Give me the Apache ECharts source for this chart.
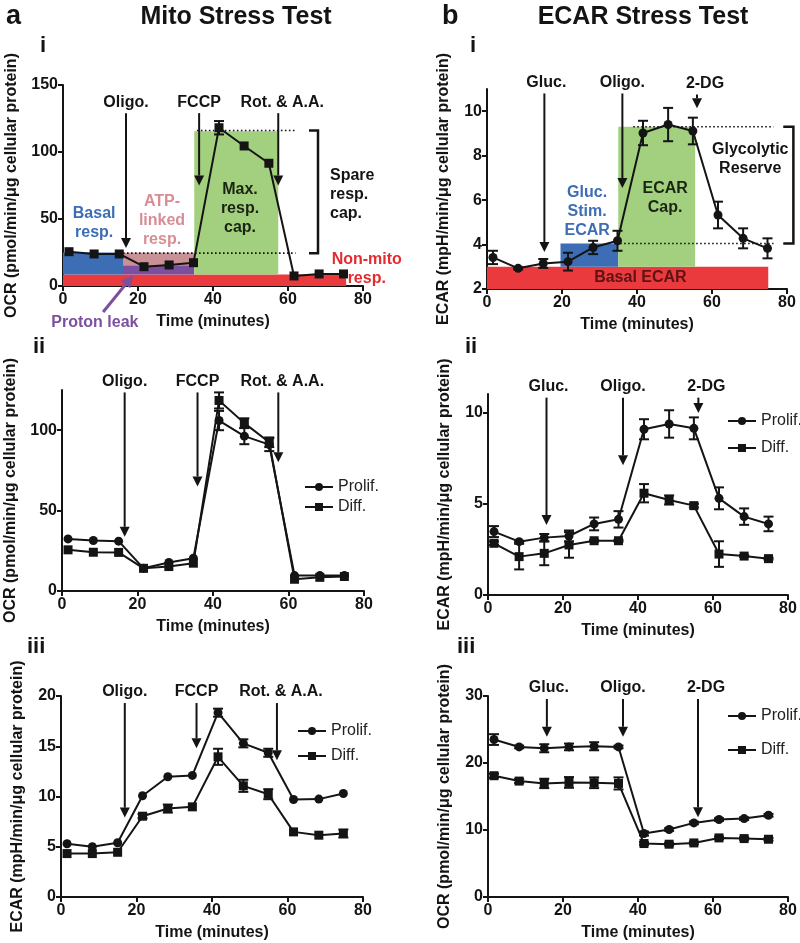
<!DOCTYPE html>
<html><head><meta charset="utf-8">
<script src="https://cdn.jsdelivr.net/npm/echarts@6/dist/echarts.min.js"></script>
<style>html,body{margin:0;padding:0;background:#fff}#c{width:800px;height:943px}</style>
</head><body><div id="c"></div>
<script>
// ---------------- DATA ----------------
const timePoints = [1.6, 8.3, 15, 21.6, 28.3, 34.8, 41.6, 48.3, 54.9, 61.6, 68.3, 74.8];
const xTicks = [0, 20, 40, 60, 80];

// a-i  Mito stress test, OCR (single trace)
const mitoOcrRef    = [25.6, 23.9, 23.9, 14.4, 15.7, 17.4, 118.1, 104.5, 91.6, 7.5, 9.0, 9.0];
const mitoOcrRefErr = [0, 0, 0, 0, 0, 0, 5, 0, 0, 0, 0, 0];
// a-ii Mito stress test OCR, Prolif vs Diff
const mitoOcrProlif    = [32.4, 31.4, 31.0, 14.1, 17.7, 20.4, 106, 96.3, 91.0, 9.6, 9.6, 9.6];
const mitoOcrProlifErr = [0, 0, 0, 0, 0, 0, 6, 5, 4, 0, 0, 0];
const mitoOcrDiff      = [25.6, 24.1, 24.0, 14.1, 15.2, 17.3, 118.5, 104.4, 92.5, 7.3, 8.5, 9.0];
const mitoOcrDiffErr   = [0, 0, 0, 0, 0, 0, 5, 3, 3, 0, 0, 0];
// a-iii Mito stress test ECAR
const mitoEcarProlif    = [5.3, 5.0, 5.4, 10.07, 11.96, 12.1, 18.34, 15.29, 14.35, 9.7, 9.74, 10.3];
const mitoEcarProlifErr = [0, 0, 0, 0, 0, 0, 0.4, 0.4, 0.4, 0, 0, 0];
const mitoEcarDiff      = [4.32, 4.32, 4.45, 8.04, 8.8, 8.97, 13.95, 11.06, 10.23, 6.48, 6.15, 6.32];
const mitoEcarDiffErr   = [0, 0, 0, 0.2, 0.4, 0, 0.8, 0.6, 0.5, 0, 0, 0.4];
// b-i ECAR stress test (single trace)
const glyEcarRef    = [3.42, 2.93, 3.15, 3.23, 3.87, 4.17, 9.02, 9.4, 9.11, 5.33, 4.28, 3.83];
const glyEcarRefErr = [0.3, 0.05, 0.2, 0.4, 0.3, 0.45, 0.55, 0.75, 0.6, 0.6, 0.45, 0.45];
// b-ii ECAR stress test ECAR
const glyEcarProlif    = [3.47, 2.92, 3.14, 3.23, 3.89, 4.14, 9.07, 9.36, 9.12, 5.29, 4.29, 3.89];
const glyEcarProlifErr = [0.3, 0.05, 0.2, 0.3, 0.35, 0.45, 0.55, 0.75, 0.6, 0.6, 0.45, 0.4];
const glyEcarDiff      = [2.83, 2.1, 2.28, 2.74, 2.97, 2.97, 5.57, 5.2, 4.89, 2.24, 2.13, 1.99];
const glyEcarDiffErr   = [0.1, 0.7, 0.65, 0.7, 0.05, 0.05, 0.5, 0.25, 0.1, 0.7, 0.05, 0.05];
// b-iii ECAR stress test OCR
const glyOcrProlif    = [23.5, 22.4, 22.2, 22.4, 22.5, 22.4, 9.47, 10.07, 11.06, 11.56, 11.7, 12.2];
const glyOcrProlifErr = [0.8, 0.2, 0.6, 0.5, 0.6, 0.2, 0.3, 0.2, 0.2, 0.2, 0.2, 0.2];
const glyOcrDiff      = [18.1, 17.3, 16.95, 17.1, 17.05, 16.95, 7.98, 7.88, 8.07, 8.82, 8.72, 8.62];
const glyOcrDiffErr   = [0.3, 0.3, 0.7, 0.8, 0.8, 0.9, 0.2, 0.2, 0.2, 0.2, 0.2, 0.2];

// y tick labels per panel
const yTicksAi = [0, 50, 100, 150];
const yTicksBi = [2, 4, 6, 8, 10];
const yTicksAii = [0, 50, 100];
const yTicksBii = [0, 5, 10];
const yTicksAiii = [0, 5, 10, 15, 20];
const yTicksBiii = [0, 10, 20, 30];

// injections: [time, arrow start value, arrow tip value]
const mitoDrugs = ['Oligo.', 'FCCP', 'Rot. & A.A.'];
const ecarDrugs = ['Gluc.', 'Oligo.', '2-DG'];
const arrowsAi   = [[16.8, 129, 28.4], [36.3, 129, 75], [57.4, 129, 75]];
const arrowsAii  = [[16.6, 123.5, 33.7], [35.9, 123.5, 65], [57.3, 123.5, 80]];
const arrowsAiii = [[16.9, 19.3, 7.9], [35.9, 19.3, 14.8], [57.2, 19.3, 13.6]];
const arrowsBi   = [[15.3, 10.8, 3.66], [36.1, 10.8, 6.54], [56.0, 10.75, 10.13]];
const arrowsBii  = [[15.6, 10.8, 3.83], [36.0, 10.8, 7.1], [56.1, 10.8, 9.96]];
const arrowsBiii = [[15.7, 29.55, 23.9], [36.0, 29.55, 23.9], [56.0, 29.55, 11.9]];

// shaded regions [x0, x1, y0, y1]
const regionsAi = [[0, 75.5, 0, 8.5], [0, 16, 8.5, 25], [16, 35, 8.5, 15.5], [16, 35, 15.5, 24.8], [35, 57.4, 8.5, 115.5]];
const regionsBi = [[0, 75, 2, 3.0], [19.6, 35, 3.0, 4.05], [35, 55.5, 3.0, 9.3]];
// reference dotted lines [x1,y1,x2,y2] and brackets [xTick, xBar, yLow, yHigh]
const dottedAi = [[35.7, 116, 62, 116], [16, 24.5, 62, 24.5]];
const bracketAi = [65.6, 68, 24.5, 116];
const dottedBi = [[39, 9.3, 76.4, 9.3], [35.5, 4.05, 76.4, 4.05]];
const bracketBi = [79, 81.7, 4.05, 9.3];

// annotation texts [x, y]
const notesAiText = ['Basal\nresp.', 'ATP-\nlinked\nresp.', 'Max.\nresp.\ncap.', 'Spare\nresp.\ncap.', 'Non-mito\nresp.', 'Proton leak'];
const notesAiPos  = [[8.3, 47], [26.4, 49], [47.2, 58], [71.2, 68], [81.0, 12.3], [8.5, -27.6]];
const notesBiText = ['Gluc.\nStim.\nECAR', 'ECAR\nCap.', 'Glycolytic\nReserve', 'Basal ECAR'];
const notesBiPos  = [[26.7, 5.5], [47.5, 6.1], [70.2, 7.85], [40.9, 2.5]];
const protonLeakArrow = [[10.7, -19.4, 18.7, 8.0]];

// ---------------- STYLE ----------------
const FONT = '"Liberation Sans", Arial, Helvetica, sans-serif';
const INK = '#141414';
const regionColorsAi = ['#ea3a3e', '#3d6db4', '#7c4f9f', '#c99096', '#a3d07e'];
const regionColorsBi = ['#ea3a3e', '#3d6db4', '#a3d07e'];
const notesAiColor = ['#3d6db4', '#d88d95', '#1a2414', INK, '#e32b30', '#7c4f9f'];
const notesAiAlign = ['center', 'center', 'center', 'left', 'center', 'center'];
const notesBiColor = ['#3d6db4', '#1a2414', INK, '#5e1214'];
const notesBiAlign = ['center', 'center', 'center', 'center'];

const grids = [
  {left: 63, top: 85, width: 300, height: 201},   // a-i
  {left: 487, top: 89, width: 300, height: 200},  // b-i
  {left: 62, top: 390, width: 302, height: 201},  // a-ii
  {left: 488, top: 394, width: 300, height: 201}, // b-ii
  {left: 61, top: 696, width: 302, height: 201},  // a-iii
  {left: 488, top: 696, width: 300, height: 201}  // b-iii
];
const yCfg = [
  {min: 0, max: 150, ticks: yTicksAi, name: 'OCR (pmol/min/μg cellular protein)', gap: 43},
  {min: 2, max: 11, ticks: yTicksBi, name: 'ECAR (mpH/min/μg cellular protein)', gap: 35},
  {min: 0, max: 125, ticks: yTicksAii, name: 'OCR (pmol/min/μg cellular protein)', gap: 43},
  {min: 0, max: 11, ticks: yTicksBii, name: 'ECAR (mpH/min/μg cellular protein)', gap: 35},
  {min: 0, max: 20, ticks: yTicksAiii, name: 'ECAR (mpH/min/μg cellular protein)', gap: 35},
  {min: 0, max: 30, ticks: yTicksBiii, name: 'OCR (pmol/min/μg cellular protein)', gap: 35}
];

const xAxes = grids.map((g, i) => ({
  gridIndex: i, type: 'value', min: 0, max: 80, interval: 20,
  axisLine: {show: true, lineStyle: {color: INK, width: 2}},
  axisTick: {show: true, length: 5, lineStyle: {color: INK, width: 2}},
  axisLabel: {fontSize: 16, fontWeight: 'bold', color: INK, fontFamily: FONT, margin: 6},
  splitLine: {show: false},
  name: 'Time (minutes)', nameLocation: 'middle', nameGap: 28,
  nameTextStyle: {fontSize: 16, fontWeight: 'bold', color: INK, fontFamily: FONT}
}));
const yAxes = yCfg.map((c, i) => ({
  gridIndex: i, type: 'value', min: c.min, max: c.max,
  axisLine: {show: true, lineStyle: {color: INK, width: 2}},
  axisTick: {show: true, length: 5, lineStyle: {color: INK, width: 2}, customValues: c.ticks},
  axisLabel: {fontSize: 16, fontWeight: 'bold', color: INK, fontFamily: FONT, margin: 5, customValues: c.ticks},
  splitLine: {show: false},
  name: c.name, nameLocation: 'middle', nameGap: c.gap, nameRotate: 90,
  nameTextStyle: {fontSize: 16, fontWeight: 'bold', color: INK, fontFamily: FONT}
}));

// ---------------- BUILDERS ----------------
function pairs(vals) { return timePoints.map((t, i) => [t, vals[i]]); }

function lineSeries(gi, name, vals, symbol) {
  return {
    type: 'line', name: name, xAxisIndex: gi, yAxisIndex: gi, data: pairs(vals),
    symbol: symbol, symbolSize: 9,
    itemStyle: {color: INK}, lineStyle: {color: INK, width: 2},
    z: 6, animation: false, silent: true
  };
}

function errorSeries(gi, vals, errs) {
  return {
    type: 'custom', xAxisIndex: gi, yAxisIndex: gi, z: 5, silent: true, animation: false,
    data: timePoints.map((t, i) => [t, vals[i], errs[i]]),
    encode: {x: 0, y: 1},
    renderItem: function (params, api) {
      const x = api.value(0), y = api.value(1), e = api.value(2);
      if (!e) return null;
      const top = api.coord([x, y + e]), bot = api.coord([x, y - e]);
      const hw = 5, st = {stroke: INK, lineWidth: 2};
      return {type: 'group', children: [
        {type: 'line', shape: {x1: top[0], y1: top[1], x2: bot[0], y2: bot[1]}, style: st},
        {type: 'line', shape: {x1: top[0] - hw, y1: top[1], x2: top[0] + hw, y2: top[1]}, style: st},
        {type: 'line', shape: {x1: bot[0] - hw, y1: bot[1], x2: bot[0] + hw, y2: bot[1]}, style: st}
      ]};
    }
  };
}

function regionSeries(gi, regions, colors) {
  return {
    type: 'custom', xAxisIndex: gi, yAxisIndex: gi, z: 1, silent: true, animation: false,
    data: regions, encode: {x: [0, 1], y: [2, 3]},
    renderItem: function (params, api) {
      const p0 = api.coord([api.value(0), api.value(3)]);
      const p1 = api.coord([api.value(1), api.value(2)]);
      return {type: 'rect', shape: {x: p0[0], y: p0[1], width: p1[0] - p0[0], height: p1[1] - p0[1]},
              style: {fill: colors[params.dataIndex]}};
    }
  };
}

function dottedSeries(gi, segs) {
  return {
    type: 'custom', xAxisIndex: gi, yAxisIndex: gi, z: 3, silent: true, animation: false,
    data: segs, encode: {x: [0, 2], y: [1, 3]},
    renderItem: function (params, api) {
      const a = api.coord([api.value(0), api.value(1)]), b = api.coord([api.value(2), api.value(3)]);
      return {type: 'line', shape: {x1: a[0], y1: a[1], x2: b[0], y2: b[1]},
              style: {stroke: INK, lineWidth: 1.6, lineDash: [1.6, 2.4]}};
    }
  };
}

function bracketSeries(gi, br) {
  return {
    type: 'custom', xAxisIndex: gi, yAxisIndex: gi, z: 3, silent: true, animation: false,
    data: [br], encode: {x: [0, 1], y: [2, 3]},
    renderItem: function (params, api) {
      const xt = api.value(0), xb = api.value(1), yl = api.value(2), yh = api.value(3);
      const pts = [api.coord([xt, yh]), api.coord([xb, yh]), api.coord([xb, yl]), api.coord([xt, yl])];
      return {type: 'polyline', shape: {points: pts}, style: {stroke: INK, lineWidth: 2.5, fill: null}};
    }
  };
}

function arrowShapes(p1, p2, color, lw, hl, hw) {
  const dx = p2[0] - p1[0], dy = p2[1] - p1[1], L = Math.hypot(dx, dy);
  const ux = dx / L, uy = dy / L, bx = p2[0] - ux * hl, by = p2[1] - uy * hl, nx = -uy, ny = ux;
  return [
    {type: 'line', shape: {x1: p1[0], y1: p1[1], x2: bx, y2: by}, style: {stroke: color, lineWidth: lw}},
    {type: 'polygon', shape: {points: [[p2[0], p2[1]], [bx + nx * hw / 2, by + ny * hw / 2], [bx - nx * hw / 2, by - ny * hw / 2]]},
     style: {fill: color}}
  ];
}

function drugSeries(gi, arrows, labels, labelDx) {
  return {
    type: 'custom', xAxisIndex: gi, yAxisIndex: gi, z: 7, silent: true, animation: false,
    data: arrows, encode: {x: 0, y: [1, 2]},
    renderItem: function (params, api) {
      const t = api.value(0);
      const top = api.coord([t, api.value(1)]), tip = api.coord([t, api.value(2)]);
      const kids = arrowShapes(top, tip, INK, 2, 10, 10);
      kids.push({type: 'text', x: top[0] + (labelDx[params.dataIndex] || 0), y: top[1] - 3,
        style: {text: labels[params.dataIndex], fill: INK, fontSize: 16, fontWeight: 'bold', fontFamily: FONT,
                align: 'center', verticalAlign: 'bottom'}});
      return {type: 'group', children: kids};
    }
  };
}

function noteSeries(gi, pos, texts, colors, aligns) {
  return {
    type: 'custom', xAxisIndex: gi, yAxisIndex: gi, z: 8, silent: true, animation: false,
    data: pos, encode: {x: 0, y: 1},
    renderItem: function (params, api) {
      const p = api.coord([api.value(0), api.value(1)]);
      const i = params.dataIndex;
      return {type: 'text', x: p[0], y: p[1],
        style: {text: texts[i], fill: colors[i], fontSize: 16, fontWeight: 'bold', fontFamily: FONT,
                align: aligns[i], verticalAlign: 'middle', lineHeight: 19}};
    }
  };
}

function freeArrowSeries(gi, arr, color) {
  return {
    type: 'custom', xAxisIndex: gi, yAxisIndex: gi, z: 8, silent: true, animation: false,
    data: arr, encode: {x: [0, 2], y: [1, 3]},
    renderItem: function (params, api) {
      const a = api.coord([api.value(0), api.value(1)]), b = api.coord([api.value(2), api.value(3)]);
      return {type: 'group', children: arrowShapes(a, b, color, 3, 12, 12)};
    }
  };
}

// ---------------- SERIES ----------------
const series = [
  // a-i
  regionSeries(0, regionsAi, regionColorsAi),
  dottedSeries(0, dottedAi), bracketSeries(0, bracketAi),
  errorSeries(0, mitoOcrRef, mitoOcrRefErr),
  lineSeries(0, 'OCR', mitoOcrRef, 'rect'),
  drugSeries(0, arrowsAi, mitoDrugs, [0, 0, 4]),
  noteSeries(0, notesAiPos, notesAiText, notesAiColor, notesAiAlign),
  freeArrowSeries(0, protonLeakArrow, '#7c4f9f'),
  // b-i
  regionSeries(1, regionsBi, regionColorsBi),
  dottedSeries(1, dottedBi), bracketSeries(1, bracketBi),
  errorSeries(1, glyEcarRef, glyEcarRefErr),
  lineSeries(1, 'ECAR', glyEcarRef, 'circle'),
  drugSeries(1, arrowsBi, ecarDrugs, [2, 0, 8]),
  noteSeries(1, notesBiPos, notesBiText, notesBiColor, notesBiAlign),
  // a-ii
  errorSeries(2, mitoOcrProlif, mitoOcrProlifErr), errorSeries(2, mitoOcrDiff, mitoOcrDiffErr),
  lineSeries(2, 'Prolif.', mitoOcrProlif, 'circle'), lineSeries(2, 'Diff.', mitoOcrDiff, 'rect'),
  drugSeries(2, arrowsAii, mitoDrugs, [0, 0, 4]),
  // b-ii
  errorSeries(3, glyEcarProlif, glyEcarProlifErr), errorSeries(3, glyEcarDiff, glyEcarDiffErr),
  lineSeries(3, 'Prolif.', glyEcarProlif, 'circle'), lineSeries(3, 'Diff.', glyEcarDiff, 'rect'),
  drugSeries(3, arrowsBii, ecarDrugs, [2, 0, 8]),
  // a-iii
  errorSeries(4, mitoEcarProlif, mitoEcarProlifErr), errorSeries(4, mitoEcarDiff, mitoEcarDiffErr),
  lineSeries(4, 'Prolif.', mitoEcarProlif, 'circle'), lineSeries(4, 'Diff.', mitoEcarDiff, 'rect'),
  drugSeries(4, arrowsAiii, mitoDrugs, [0, 0, 4]),
  // b-iii
  errorSeries(5, glyOcrProlif, glyOcrProlifErr), errorSeries(5, glyOcrDiff, glyOcrDiffErr),
  lineSeries(5, 'Prolif.', glyOcrProlif, 'circle'), lineSeries(5, 'Diff.', glyOcrDiff, 'rect'),
  drugSeries(5, arrowsBiii, ecarDrugs, [2, 0, 8])
];

function legendAt(left, top, gap) {
  return {data: ['Prolif.', 'Diff.'], orient: 'vertical', left: left, top: top, itemGap: gap,
          itemWidth: 28, itemHeight: 10, selectedMode: false,
          textStyle: {fontSize: 16, color: '#222', fontFamily: FONT}};
}

function label(text, x, y, size, align) {
  return {type: 'text', x: x, y: y, silent: true,
    style: {text: text, fill: INK, font: 'bold ' + size + 'px ' + FONT, textAlign: align || 'left', textVerticalAlign: 'middle'}};
}

const option = {
  backgroundColor: '#fff',
  animation: false,
  grid: grids,
  xAxis: xAxes,
  yAxis: yAxes,
  legend: [legendAt(299, 474, 4), legendAt(722, 408, 11), legendAt(292, 718, 9), legendAt(722, 703, 18)],
  graphic: [
    label('a', 6, 17, 27), label('Mito Stress Test', 236, 17, 25, 'center'),
    label('b', 442, 17, 27), label('ECAR Stress Test', 643, 17, 25, 'center'),
    label('i', 40, 46, 22), label('i', 470, 46, 22),
    label('ii', 33, 347, 22), label('ii', 465, 347, 22),
    label('iii', 27, 647, 22), label('iii', 457, 647, 22)
  ],
  series: series
};

const chart = echarts.init(document.getElementById('c'), null, {renderer: 'canvas'});
chart.setOption(option);
</script>
</body></html>
